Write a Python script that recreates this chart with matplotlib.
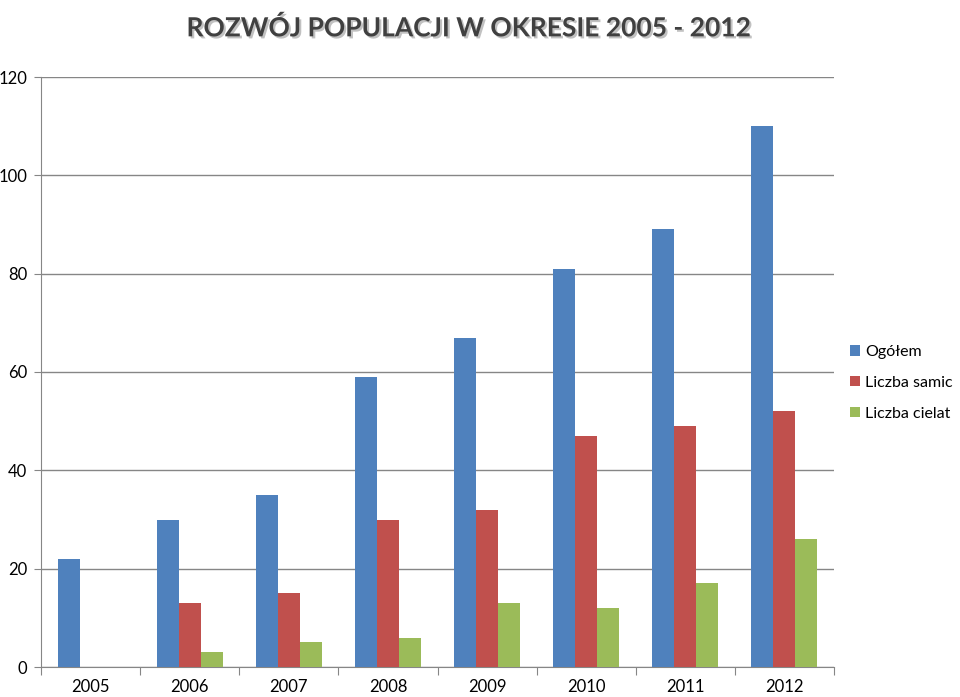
import numpy as np
import matplotlib
matplotlib.use("Agg")
import matplotlib.pyplot as plt
import matplotlib.patheffects as pe

plt.rcParams["font.family"] = ["Lato", "DejaVu Sans"]

years = ["2005", "2006", "2007", "2008", "2009", "2010", "2011", "2012"]
ogolem = [22, 30, 35, 59, 67, 81, 89, 110]
samic = [0, 13, 15, 30, 32, 47, 49, 52]
cielat = [0, 3, 5, 6, 13, 12, 17, 26]

series = [("Ogółem", ogolem, "#4F81BD"),
          ("Liczba samic", samic, "#C0504D"),
          ("Liczba cielat", cielat, "#9BBB59")]

fig = plt.figure(figsize=(9.6, 6.97), dpi=100)
ax = fig.add_axes([41 / 960, 30 / 697, 793 / 960, 590 / 697])

x = np.arange(len(years))
w = 0.222
for i, (name, vals, col) in enumerate(series):
    ax.bar(x + (i - 1) * w, vals, w, color=col, label=name, zorder=3)

ax.set_xlim(-0.5, len(years) - 0.5)
ax.set_ylim(0, 120)
ax.set_yticks(range(0, 121, 20))
ax.yaxis.grid(True, color="#868686", lw=1, zorder=0)

# tick marks between the groups, labels centred under them
ax.set_xticks(np.arange(-0.5, len(years)), labels=[""] * (len(years) + 1))
ax.set_xticks(x, labels=years, minor=True)
ax.tick_params(axis="x", which="major", length=6, color="#868686", direction="out")
ax.tick_params(axis="x", which="minor", length=0, labelsize=12, pad=9)
ax.tick_params(axis="y", length=5, color="#868686", labelsize=12, pad=5)

for s in ["top", "right"]:
    ax.spines[s].set_visible(False)
for s in ["left", "bottom"]:
    ax.spines[s].set_color("#868686")

fig.legend(loc="upper left", bbox_to_anchor=(850 / 960, 1 - 345 / 697),
           frameon=False, fontsize=11.5, handlelength=0.65, handleheight=0.65,
           handletextpad=0.3, labelspacing=1.05, borderaxespad=0, borderpad=0)

fig.text(0.488, 0.978, "ROZWÓJ POPULACJI W OKRESIE 2005 - 2012", ha="center", va="top",
         fontsize=19, fontweight="bold", color="#404040",
         path_effects=[pe.withSimplePatchShadow(offset=(1.5, -1.5), shadow_rgbFace="#999999", alpha=0.6)])

fig.savefig("out.png", dpi=100)
